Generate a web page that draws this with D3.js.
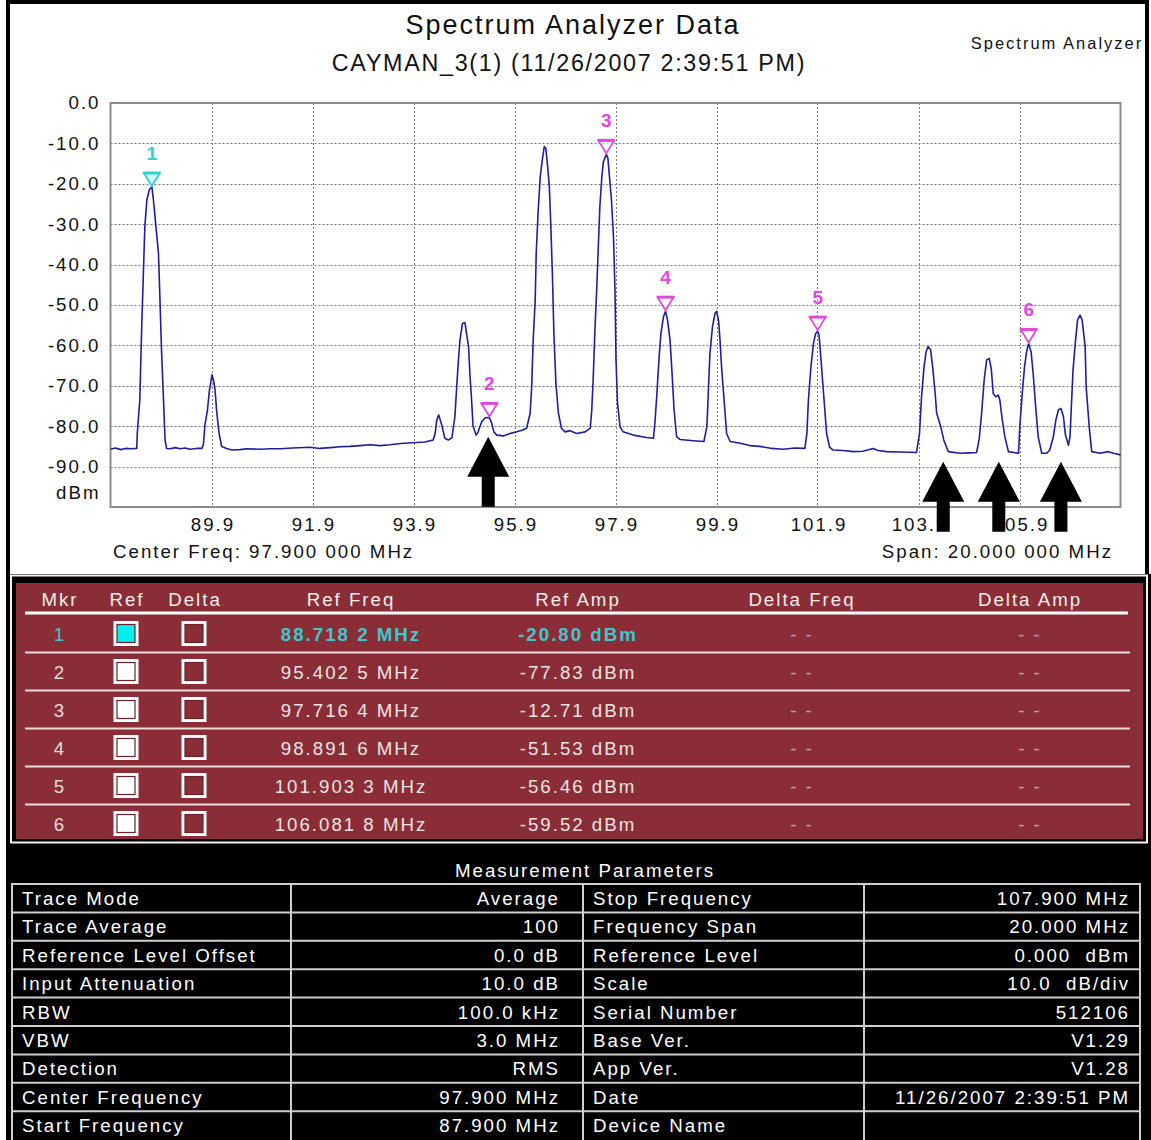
<!DOCTYPE html>
<html>
<head>
<meta charset="utf-8">
<script src="https://cdn.jsdelivr.net/npm/d3@7"></script>
<style>
  html, body { margin: 0; padding: 0; background: #fff; }
  svg { display: block; font-family: "Liberation Sans", Arial, sans-serif; }
</style>
</head>
<body>
<svg id="chart" width="1151" height="1140"></svg>
<script>
// ---- Trace: averaged spectrum, frequency (MHz) and level (dBm) ----
const traceMHz = [87.90,88.00,88.10,88.20,88.30,88.42,88.43,88.48,88.52,88.55,88.58,88.62,88.67,88.72,88.75,88.80,88.85,88.88,88.91,88.95,88.98,89.01,89.08,89.18,89.28,89.38,89.47,89.60,89.71,89.74,89.77,89.82,89.86,89.91,89.94,89.97,90.00,90.05,90.10,90.20,90.30,90.46,90.60,90.86,91.06,91.26,91.50,91.85,92.05,92.25,92.45,92.64,92.84,93.04,93.24,93.43,93.65,93.89,94.13,94.29,94.33,94.36,94.40,94.46,94.52,94.59,94.66,94.72,94.76,94.79,94.82,94.87,94.92,94.95,94.99,95.02,95.05,95.08,95.14,95.18,95.25,95.32,95.40,95.45,95.49,95.55,95.68,95.81,95.94,96.05,96.14,96.21,96.24,96.27,96.31,96.33,96.37,96.41,96.45,96.49,96.52,96.55,96.59,96.62,96.65,96.68,96.72,96.77,96.83,96.90,97.00,97.13,97.30,97.40,97.43,97.46,97.49,97.53,97.56,97.59,97.63,97.66,97.72,97.75,97.78,97.82,97.86,97.89,97.91,97.94,97.99,98.05,98.25,98.52,98.65,98.68,98.72,98.76,98.80,98.85,98.89,98.93,98.98,99.02,99.06,99.11,99.18,99.44,99.65,99.71,99.74,99.77,99.82,99.87,99.90,99.94,99.97,100.00,100.05,100.10,100.17,100.37,100.56,100.76,101.00,101.22,101.45,101.65,101.69,101.72,101.77,101.82,101.86,101.90,101.93,101.95,101.98,102.03,102.08,102.14,102.21,102.40,102.61,102.80,103.00,103.10,103.27,103.55,103.86,103.92,103.96,104.01,104.05,104.09,104.14,104.18,104.23,104.26,104.34,104.40,104.49,104.72,104.90,105.05,105.10,105.15,105.20,105.25,105.30,105.34,105.38,105.43,105.48,105.51,105.56,105.61,105.68,105.88,105.91,105.96,106.00,106.04,106.08,106.13,106.17,106.22,106.27,106.34,106.44,106.50,106.57,106.62,106.67,106.72,106.77,106.81,106.87,106.90,106.93,106.96,107.01,107.05,107.10,107.14,107.20,107.22,107.28,107.33,107.49,107.66,107.76,107.90];
const traceDbm = [-85.7,-85.4,-85.8,-85.5,-85.6,-85.5,-81.8,-73.5,-54.5,-42.6,-30.6,-24.0,-21.4,-20.8,-24.0,-30.6,-37.2,-48.8,-61.1,-73.5,-83.4,-85.5,-85.6,-85.3,-85.6,-85.4,-85.7,-85.5,-85.5,-84.5,-79.7,-76.0,-71.0,-67.3,-68.6,-71.0,-76.0,-81.8,-85.0,-85.5,-85.9,-85.8,-85.6,-85.7,-85.6,-85.6,-85.4,-85.2,-85.5,-85.3,-85.1,-85.0,-84.8,-84.6,-84.8,-84.6,-84.3,-84.1,-83.9,-83.4,-81.7,-78.5,-77.2,-79.7,-83.0,-83.4,-82.9,-77.6,-69.4,-63.6,-58.7,-54.5,-54.4,-57.0,-60.3,-67.7,-73.5,-80.1,-82.2,-81.4,-78.9,-77.9,-77.83,-79.3,-81.4,-82.2,-82.4,-81.8,-81.4,-81.0,-80.5,-76.8,-70.2,-58.7,-48.8,-37.2,-26.5,-18.2,-14.1,-10.8,-11.2,-14.9,-20.7,-30.6,-42.2,-57.0,-69.4,-76.8,-80.5,-81.4,-81.1,-81.8,-81.4,-80.5,-76.0,-67.7,-57.0,-45.5,-35.6,-25.7,-18.2,-14.5,-12.71,-13.7,-18.2,-24.0,-33.1,-46.3,-63.6,-74.3,-80.1,-81.4,-82.2,-82.8,-83.0,-79.3,-71.9,-63.6,-57.0,-52.9,-51.53,-53.7,-58.7,-66.9,-76.0,-82.6,-83.3,-83.6,-83.8,-80.1,-71.0,-62.0,-55.4,-52.1,-51.6,-53.7,-58.7,-65.3,-73.5,-81.8,-83.8,-84.2,-84.8,-85.0,-85.5,-85.7,-85.4,-85.5,-81.8,-73.5,-65.3,-59.5,-57.2,-56.46,-57.4,-60.3,-65.3,-73.5,-81.8,-85.2,-85.9,-86.0,-86.3,-86.2,-85.5,-86.0,-86.3,-86.4,-86.5,-81.8,-72.7,-65.3,-61.6,-60.3,-61.1,-65.3,-71.9,-76.8,-80.1,-83.4,-86.3,-86.7,-86.6,-86.5,-83.4,-76.8,-68.6,-63.6,-63.2,-65.7,-71.9,-72.7,-72.3,-73.5,-78.5,-82.6,-86.3,-86.7,-79.3,-71.0,-65.3,-61.6,-59.52,-61.6,-66.9,-75.2,-82.6,-86.7,-86.7,-85.9,-82.6,-78.5,-76.0,-75.6,-77.6,-82.2,-84.7,-82.6,-74.3,-66.1,-58.7,-53.7,-52.5,-53.7,-60.3,-70.2,-80.1,-86.3,-86.7,-86.3,-86.7,-87.1];

// ---- Markers ----
const markerIds = [1, 2, 3, 4, 5, 6];
const markerMHz = [88.7182, 95.4025, 97.7164, 98.8916, 101.9033, 106.0818];
const markerDbm = [-20.80, -77.83, -12.71, -51.53, -56.46, -59.52];
const activeMarker = 1;

// ---- Axis ticks ----
const freqTicks = [89.9, 91.9, 93.9, 95.9, 97.9, 99.9, 101.9, 103.9, 105.9];
const ampTicks = [0, -10, -20, -30, -40, -50, -60, -70, -80, -90];

// ---- Annotation arrows (frequency, tip level) ----
const arrowMHz = [95.38, 104.39, 105.49, 106.72];
const arrowTipDbm = [-82.6, -88.8, -88.8, -88.8];

// ---- Measurement parameters ----
const paramNamesLeft = ["Trace Mode", "Trace Average", "Reference Level Offset", "Input Attenuation", "RBW", "VBW", "Detection", "Center Frequency", "Start Frequency"];
const paramValuesLeft = ["Average", "100", "0.0 dB", "10.0 dB", "100.0 kHz", "3.0 MHz", "RMS", "97.900 MHz", "87.900 MHz"];
const paramNamesRight = ["Stop Frequency", "Frequency Span", "Reference Level", "Scale", "Serial Number", "Base Ver.", "App Ver.", "Date", "Device Name"];
const paramValuesRight = ["107.900 MHz", "20.000 MHz", "0.000  dBm", "10.0  dB/div", "512106", "V1.29", "V1.28", "11/26/2007 2:39:51 PM", ""];

const svg = d3.select("#chart");
const LS = 2; // letter spacing used throughout

// Frame of the chart panel
svg.append("rect").attr("x", 0).attr("y", 0).attr("width", 1151).attr("height", 1140).attr("fill", "#fff");
svg.append("rect").attr("x", 8).attr("y", 2).attr("width", 1139).attr("height", 580)
  .attr("fill", "none").attr("stroke", "#000").attr("stroke-width", 4);

// Titles
svg.append("text").attr("x", 573).attr("y", 34).attr("text-anchor", "middle")
  .attr("font-size", 27).attr("letter-spacing", LS).attr("fill", "#111").text("Spectrum Analyzer Data");
svg.append("text").attr("x", 569).attr("y", 71).attr("text-anchor", "middle")
  .attr("font-size", 23.3).attr("letter-spacing", 1.7).attr("fill", "#111").text("CAYMAN_3(1) (11/26/2007 2:39:51 PM)");
svg.append("text").attr("x", 1057).attr("y", 49).attr("text-anchor", "middle")
  .attr("font-size", 16.5).attr("letter-spacing", LS).attr("fill", "#111").text("Spectrum Analyzer");

// Scales
const x = d3.scaleLinear().domain([87.9, 107.9]).range([110.5, 1120.5]);
const y = d3.scaleLinear().domain([0, -100]).range([103, 507]);

// Grid
const grid = svg.append("g").attr("stroke", "#7a7a7a").attr("stroke-width", 1).attr("stroke-dasharray", "2,2");
grid.selectAll("line.v").data(freqTicks).join("line").attr("class", "v")
  .attr("x1", d => Math.round(x(d)) + 0.5).attr("x2", d => Math.round(x(d)) + 0.5)
  .attr("y1", y(0)).attr("y2", y(-100));
grid.selectAll("line.h").data(ampTicks.filter(d => d !== 0)).join("line").attr("class", "h")
  .attr("x1", x(87.9)).attr("x2", x(107.9))
  .attr("y1", d => Math.round(y(d)) + 0.5).attr("y2", d => Math.round(y(d)) + 0.5);

// Plot border
svg.append("rect").attr("x", x(87.9)).attr("y", y(0)).attr("width", x(107.9) - x(87.9)).attr("height", y(-100) - y(0))
  .attr("fill", "none").attr("stroke", "#8c8c8c").attr("stroke-width", 2);

// Axes
const fmt = d => d.toFixed(1);
const yAxis = svg.append("g").attr("transform", `translate(${x(87.9) - 12 + LS},0)`)
  .call(d3.axisLeft(y).tickValues(ampTicks).tickFormat(fmt).tickSize(0).tickPadding(0));
yAxis.select(".domain").remove();
yAxis.selectAll("text").attr("font-size", 18.7).attr("letter-spacing", LS).attr("fill", "#111")
  .attr("font-family", "Liberation Sans, Arial, sans-serif");
svg.append("text").attr("x", x(87.9) - 12 + LS).attr("y", 499).attr("text-anchor", "end")
  .attr("font-size", 18.7).attr("letter-spacing", LS).attr("fill", "#111").text("dBm");

const xAxis = svg.append("g").attr("transform", `translate(${LS / 2},${y(-100)})`)
  .call(d3.axisBottom(x).tickValues(freqTicks).tickFormat(fmt).tickSize(0).tickPadding(11));
xAxis.select(".domain").remove();
xAxis.selectAll("text").attr("font-size", 18.7).attr("letter-spacing", LS).attr("fill", "#111")
  .attr("font-family", "Liberation Sans, Arial, sans-serif");

svg.append("text").attr("x", 113).attr("y", 558).attr("font-size", 18.7).attr("letter-spacing", LS)
  .attr("fill", "#111").text("Center Freq: 97.900 000 MHz");
svg.append("text").attr("x", 1113).attr("y", 558).attr("text-anchor", "end").attr("font-size", 18.7)
  .attr("letter-spacing", LS).attr("fill", "#111").text("Span: 20.000 000 MHz");

// Trace
const traceData = traceMHz.map((f, i) => [f, traceDbm[i]]);
svg.append("path").datum(traceData)
  .attr("fill", "none").attr("stroke", "#1f1f9e").attr("stroke-width", 1.6).attr("stroke-linejoin", "round")
  .attr("d", d3.line().x(d => x(d[0])).y(d => y(d[1])));

// Marker glyphs
const markerColor = id => id === activeMarker ? "#2fd0d4" : "#e048e0";
const mk = svg.append("g");
markerIds.forEach((id, i) => {
  const cx = x(markerMHz[i]), cy = y(markerDbm[i]);
  const col = markerColor(id);
  mk.append("path")
    .attr("d", `M${cx - 8},${cy - 14}L${cx + 8},${cy - 14}L${cx},${cy - 1}Z`)
    .attr("fill", id === activeMarker ? "#bff4f4" : "#fff").attr("fill-opacity", 0.6)
    .attr("stroke", col).attr("stroke-width", 1.8);
  mk.append("line").attr("x1", cx - 8.5).attr("x2", cx + 8.5).attr("y1", cy - 14).attr("y2", cy - 14)
    .attr("stroke", col).attr("stroke-width", 3);
  mk.append("text").attr("x", cx).attr("y", cy - 27).attr("text-anchor", "middle")
    .attr("font-size", 19).attr("font-weight", "bold").attr("fill", col).text(id);
});

// Annotation arrows
const arrows = svg.append("g").attr("fill", "#000");
arrowMHz.forEach((f, i) => {
  const cx = x(f), ty = y(arrowTipDbm[i]);
  arrows.append("path").attr("d",
    `M${cx},${ty}L${cx + 21},${ty + 40}L${cx + 6.5},${ty + 40}L${cx + 6.5},${ty + 70}` +
    `L${cx - 6.5},${ty + 70}L${cx - 6.5},${ty + 40}L${cx - 21},${ty + 40}Z`);
});

// ---- Marker table ----
svg.append("rect").attr("x", 6).attr("y", 574).attr("width", 1145).attr("height", 566).attr("fill", "#000");
svg.append("rect").attr("x", 11).attr("y", 575.5).attr("width", 1136).attr("height", 267)
  .attr("fill", "none").attr("stroke", "#f2f2f2").attr("stroke-width", 2);
svg.append("rect").attr("x", 16).attr("y", 583).attr("width", 1127).attr("height", 256).attr("fill", "#8b2d37");

const colX = { mkr: 59, ref: 126, delta: 194, rfreq: 350, ramp: 577, dfreq: 801, damp: 1029 };
const headers = [["Mkr", colX.mkr], ["Ref", colX.ref], ["Delta", colX.delta], ["Ref Freq", colX.rfreq],
  ["Ref Amp", colX.ramp], ["Delta Freq", colX.dfreq], ["Delta Amp", colX.damp]];
const tbl = svg.append("g").attr("font-size", 18.7).attr("letter-spacing", LS);
tbl.selectAll("text.h").data(headers).join("text").attr("class", "h")
  .attr("x", d => d[1] + LS / 2).attr("y", 606).attr("text-anchor", "middle").attr("fill", "#f3eded").text(d => d[0]);
tbl.append("line").attr("x1", 25).attr("x2", 1128).attr("y1", 613).attr("y2", 613)
  .attr("stroke", "#fff").attr("stroke-width", 3);

const rowY = i => 634 + 38 * i;
const freqText = f => { const s = f.toFixed(4); return s.slice(0, -1) + " " + s.slice(-1) + " MHz"; };
const ampText = a => a.toFixed(2) + " dBm";
markerIds.forEach((id, i) => {
  const cy = rowY(i);
  const active = id === activeMarker;
  const txtCol = active ? "#3cc8d0" : "#ece4e4";
  const g = tbl.append("g");
  g.append("text").attr("x", colX.mkr + LS / 2).attr("y", cy + 7).attr("text-anchor", "middle")
    .attr("fill", active ? "#3cc8d0" : "#e6dede").text(id);
  // Ref checkbox
  g.append("rect").attr("x", colX.ref - 12.5).attr("y", cy - 13).attr("width", 25).attr("height", 25).attr("fill", "#fff");
  g.append("rect").attr("x", colX.ref - 9).attr("y", cy - 9.5).attr("width", 18).attr("height", 18)
    .attr("fill", active ? "#00f0f0" : "#fff").attr("stroke", "#6a2028").attr("stroke-width", 1.2);
  // Delta checkbox
  g.append("rect").attr("x", colX.delta - 12.5).attr("y", cy - 13).attr("width", 25).attr("height", 25).attr("fill", "#fff");
  g.append("rect").attr("x", colX.delta - 9).attr("y", cy - 9.5).attr("width", 18).attr("height", 18)
    .attr("fill", "#8b2d37").attr("stroke", "#6a2028").attr("stroke-width", 1.2);
  g.append("text").attr("x", colX.rfreq + LS / 2).attr("y", cy + 7).attr("text-anchor", "middle")
    .attr("fill", txtCol).attr("font-weight", active ? "bold" : "normal").text(freqText(markerMHz[i]));
  g.append("text").attr("x", colX.ramp + LS / 2).attr("y", cy + 7).attr("text-anchor", "middle")
    .attr("fill", txtCol).attr("font-weight", active ? "bold" : "normal").text(ampText(markerDbm[i]));
  [colX.dfreq, colX.damp].forEach(cx => {
    g.append("text").attr("x", cx + LS / 2).attr("y", cy + 7).attr("text-anchor", "middle")
      .attr("fill", active ? "#7fb4bc" : "#b9a9ad").text("- -");
  });
  if (i < markerIds.length - 1) {
    tbl.append("line").attr("x1", 25).attr("x2", 1130).attr("y1", cy + 18.5).attr("y2", cy + 18.5)
      .attr("stroke", "#eadede").attr("stroke-width", 2);
  }
});

// ---- Measurement parameters table ----
svg.append("text").attr("x", 585).attr("y", 877).attr("text-anchor", "middle").attr("font-size", 18.7)
  .attr("letter-spacing", LS).attr("fill", "#fff").text("Measurement Parameters");

const colEdges = [12, 291, 583, 864, 1140];
const rowTop = 884, rowH = 28.4;
const mp = svg.append("g");
const lines = mp.append("g").attr("stroke", "#cfcfcf").attr("stroke-width", 2);
paramNamesLeft.forEach((_, i) => {
  lines.append("line").attr("x1", colEdges[0]).attr("x2", colEdges[4])
    .attr("y1", rowTop + rowH * i).attr("y2", rowTop + rowH * i);
});
colEdges.forEach(cx => {
  lines.append("line").attr("x1", cx).attr("x2", cx).attr("y1", rowTop - 1).attr("y2", 1140);
});
const mt = mp.append("g").attr("font-size", 18.7).attr("letter-spacing", LS).attr("fill", "#fff");
paramNamesLeft.forEach((name, i) => {
  const by = rowTop + rowH * i + 21;
  mt.append("text").attr("x", 22).attr("y", by).text(name);
  mt.append("text").attr("x", 560).attr("y", by).attr("text-anchor", "end").text(paramValuesLeft[i]);
  mt.append("text").attr("x", 593).attr("y", by).text(paramNamesRight[i]);
  mt.append("text").attr("x", 1130).attr("y", by).attr("text-anchor", "end")
    .attr("xml:space", "preserve").style("white-space", "pre").text(paramValuesRight[i]);
});
</script>
</body>
</html>
